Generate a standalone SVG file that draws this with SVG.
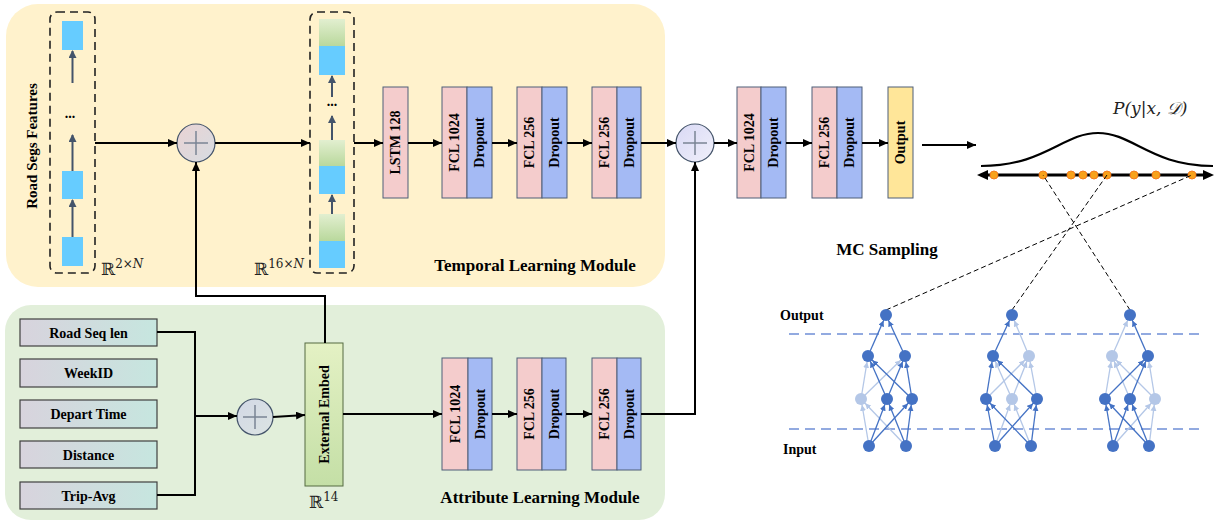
<svg xmlns="http://www.w3.org/2000/svg" width="1215" height="523" viewBox="0 0 1215 523">
<style>
.lbl{font-family:"Liberation Serif","Times New Roman",serif;font-weight:bold;font-size:14px;fill:#000}
.big{font-family:"Liberation Serif","Times New Roman",serif;font-weight:bold;font-size:17px;fill:#000}
.math{font-family:"DejaVu Serif","Liberation Serif",serif;font-size:17px;fill:#222}
.conn{fill:none;stroke:#000;stroke-width:2}
.gconn{fill:none;stroke:#44546A;stroke-width:2}
.fcl{fill:#F4CCCC;stroke:#4F5F78;stroke-width:1}
.drop{fill:#A4BAF4;stroke:#4F5F78;stroke-width:1}
.dash{fill:none;stroke:#222;stroke-width:1.6;stroke-dasharray:8 5}
.blue{fill:#66CCFF}
.ib{fill:url(#gInput);stroke:#404040;stroke-width:1.2}
.plus{stroke:#7A8494;stroke-width:1.5}
.dk{fill:#4472C4}
.lt{fill:#B4C7E7}
.edk{stroke:#4472C4;stroke-width:1.3;marker-end:url(#aDk)}
.elt{stroke:#B4C7E7;stroke-width:1.3;marker-end:url(#aLt)}
.mc{fill:none;stroke:#000;stroke-width:1;stroke-dasharray:5 3}
.sep{stroke:#6F8FD6;stroke-width:1.5;stroke-dasharray:10 6}
.dot{fill:#F7A21B;stroke:#F47C20;stroke-width:1}
</style>
<defs>
<marker id="aBk" markerUnits="userSpaceOnUse" markerWidth="10" markerHeight="8" refX="9" refY="4" orient="auto"><path d="M0,0 L9,4 L0,8 z" fill="#000"/></marker>
<marker id="aBk2" markerUnits="userSpaceOnUse" markerWidth="12" markerHeight="10" refX="0" refY="5" orient="auto-start-reverse"><path d="M0,0 L11,5 L0,10 z" fill="#000"/></marker>
<marker id="aGr" markerUnits="userSpaceOnUse" markerWidth="8" markerHeight="8" refX="7" refY="4" orient="auto"><path d="M0,0 L8,4 L0,8 z" fill="#44546A"/></marker>
<marker id="aDk" markerUnits="userSpaceOnUse" markerWidth="14" markerHeight="6" refX="12" refY="3" orient="auto"><path d="M0,0 L6,3 L0,6 z" fill="#4472C4"/></marker>
<marker id="aLt" markerUnits="userSpaceOnUse" markerWidth="14" markerHeight="6" refX="12" refY="3" orient="auto"><path d="M0,0 L6,3 L0,6 z" fill="#B4C7E7"/></marker>
<linearGradient id="gInput" x1="0" y1="0" x2="1" y2="0"><stop offset="0" stop-color="#D8D3DD"/><stop offset="1" stop-color="#C6E6DF"/></linearGradient>
<linearGradient id="gGreen" x1="0" y1="0" x2="0" y2="1"><stop offset="0" stop-color="#E2EFD0"/><stop offset="1" stop-color="#B9D89C"/></linearGradient>
<linearGradient id="gEmbed" x1="0" y1="0" x2="0" y2="1"><stop offset="0" stop-color="#E4F1C4"/><stop offset="1" stop-color="#C4DFA6"/></linearGradient>
<linearGradient id="gC1" x1="0" y1="0" x2="1" y2="1"><stop offset="0" stop-color="#EAD3D3"/><stop offset="1" stop-color="#D6DCE2"/></linearGradient>
<linearGradient id="gC2" x1="0" y1="0" x2="1" y2="1"><stop offset="0" stop-color="#D9D9F5"/><stop offset="1" stop-color="#F0F0FA"/></linearGradient>
<linearGradient id="gC3" x1="0" y1="0" x2="1" y2="1"><stop offset="0" stop-color="#D2D8E6"/><stop offset="1" stop-color="#DCE4E2"/></linearGradient>
</defs>

<!-- panels -->
<rect id="temporal-panel" x="6" y="4" width="659" height="283" rx="32" fill="#FFF2CC"/>
<rect id="attribute-panel" x="5" y="305" width="660" height="215" rx="26" fill="#E2EFDA"/>
<text class="big" x="535" y="271" text-anchor="middle">Temporal Learning Module</text>
<text class="big" x="540" y="503" text-anchor="middle">Attribute Learning Module</text>

<!-- road segs features -->
<g id="road-segs">
<text class="lbl" transform="translate(37,146) rotate(-90)" text-anchor="middle" style="font-size:15px">Road Segs Features</text>
<rect class="dash" x="50" y="12" width="45" height="261" rx="7"/>
<rect class="blue" x="62" y="21" width="21" height="29"/>
<rect class="blue" x="62" y="171" width="21" height="28"/>
<rect class="blue" x="62" y="237" width="21" height="29"/>
<line class="gconn" x1="72.5" y1="83" x2="72.5" y2="51" marker-end="url(#aGr)"/>
<line class="gconn" x1="72.5" y1="171" x2="72.5" y2="135" marker-end="url(#aGr)"/>
<line class="gconn" x1="72.5" y1="237" x2="72.5" y2="200" marker-end="url(#aGr)"/>
<text class="lbl" x="70" y="118" text-anchor="middle">...</text>
<text class="math" x="101" y="275">ℝ<tspan font-size="12" dy="-7">2×<tspan font-style="italic">N</tspan></tspan></text>
</g>

<g id="plus1">
<circle cx="196" cy="143" r="19" fill="url(#gC1)" stroke="#44546A" stroke-width="1.2"/>
<line class="plus" x1="184" y1="143" x2="208" y2="143"/><line class="plus" x1="196" y1="131" x2="196" y2="155"/>
</g>

<g id="embedded-seq">
<rect class="dash" x="310" y="12" width="44" height="261" rx="7"/>
<rect x="319" y="19" width="26" height="27" fill="url(#gGreen)"/><rect class="blue" x="319" y="46" width="26" height="29"/>
<rect x="319" y="140" width="26" height="26" fill="url(#gGreen)"/><rect class="blue" x="319" y="166" width="26" height="28"/>
<rect x="319" y="214" width="26" height="27" fill="url(#gGreen)"/><rect class="blue" x="319" y="241" width="26" height="27"/>
<line class="gconn" x1="332" y1="97" x2="332" y2="76" marker-end="url(#aGr)"/>
<line class="gconn" x1="332" y1="140" x2="332" y2="116" marker-end="url(#aGr)"/>
<line class="gconn" x1="332" y1="214" x2="332" y2="195" marker-end="url(#aGr)"/>
<text class="lbl" x="332" y="106" text-anchor="middle">...</text>
<text class="math" x="254" y="275">ℝ<tspan font-size="12" dy="-7">16×<tspan font-style="italic">N</tspan></tspan></text>
</g>

<g id="lstm"><rect class="fcl" x="383" y="87" width="25" height="111"/><text class="lbl" transform="translate(395.5,142.5) rotate(-90)" text-anchor="middle" dominant-baseline="central">LSTM 128</text></g>
<g id="t-fcl1"><rect class="fcl" x="442" y="87" width="25" height="111"/><rect class="drop" x="467" y="87" width="25" height="111"/>
<text class="lbl" transform="translate(454.5,142.5) rotate(-90)" text-anchor="middle" dominant-baseline="central">FCL 1024</text>
<text class="lbl" transform="translate(479.5,142.5) rotate(-90)" text-anchor="middle" dominant-baseline="central">Dropout</text></g>
<g id="t-fcl2"><rect class="fcl" x="517" y="87" width="25" height="111"/><rect class="drop" x="542" y="87" width="25" height="111"/>
<text class="lbl" transform="translate(529.5,142.5) rotate(-90)" text-anchor="middle" dominant-baseline="central">FCL 256</text>
<text class="lbl" transform="translate(554.5,142.5) rotate(-90)" text-anchor="middle" dominant-baseline="central">Dropout</text></g>
<g id="t-fcl3"><rect class="fcl" x="592" y="87" width="25" height="111"/><rect class="drop" x="617" y="87" width="24" height="111"/>
<text class="lbl" transform="translate(604.5,142.5) rotate(-90)" text-anchor="middle" dominant-baseline="central">FCL 256</text>
<text class="lbl" transform="translate(629,142.5) rotate(-90)" text-anchor="middle" dominant-baseline="central">Dropout</text></g>

<g id="plus2">
<circle cx="695" cy="143" r="19" fill="url(#gC2)" stroke="#44546A" stroke-width="1.2"/>
<line class="plus" x1="683" y1="143" x2="707" y2="143"/><line class="plus" x1="695" y1="131" x2="695" y2="155"/>
</g>

<g id="m-fcl1"><rect class="fcl" x="737" y="87" width="24" height="111"/><rect class="drop" x="761" y="87" width="25" height="111"/>
<text class="lbl" transform="translate(749,142.5) rotate(-90)" text-anchor="middle" dominant-baseline="central">FCL 1024</text>
<text class="lbl" transform="translate(773.5,142.5) rotate(-90)" text-anchor="middle" dominant-baseline="central">Dropout</text></g>
<g id="m-fcl2"><rect class="fcl" x="812" y="87" width="25" height="111"/><rect class="drop" x="837" y="87" width="25" height="111"/>
<text class="lbl" transform="translate(824.5,142.5) rotate(-90)" text-anchor="middle" dominant-baseline="central">FCL 256</text>
<text class="lbl" transform="translate(849.5,142.5) rotate(-90)" text-anchor="middle" dominant-baseline="central">Dropout</text></g>
<g id="output"><rect x="888" y="87" width="25" height="111" fill="#FFE699" stroke="#4F5F78" stroke-width="1"/>
<text class="lbl" transform="translate(900.5,142.5) rotate(-90)" text-anchor="middle" dominant-baseline="central">Output</text></g>

<!-- distribution -->
<g id="distribution">
<text class="math" x="1113" y="114" font-style="italic">P(y|x, 𝒟)</text>
<path d="M981,166 C1045,166 1063,133 1098,133 C1133,133 1151,166 1213,166" fill="none" stroke="#000" stroke-width="2.2"/>
<line x1="988" y1="175" x2="1203" y2="175" stroke="#000" stroke-width="3" marker-start="url(#aBk2)" marker-end="url(#aBk2)"/>
<circle class="dot" cx="994" cy="175" r="4"/><circle class="dot" cx="1043" cy="175" r="4"/>
<circle class="dot" cx="1071" cy="175" r="4"/><circle class="dot" cx="1083" cy="175" r="4"/>
<circle class="dot" cx="1094" cy="175" r="4"/><circle class="dot" cx="1107" cy="175" r="4"/>
<circle class="dot" cx="1134" cy="175" r="4"/><circle class="dot" cx="1156" cy="175" r="4"/>
<circle class="dot" cx="1192" cy="175" r="4"/>
</g>
<text class="big" x="887" y="255" text-anchor="middle">MC Sampling</text>

<!-- attribute inputs -->
<g id="in-roadseq"><rect class="ib" x="20" y="319" width="137" height="27"/><text class="lbl" x="88.5" y="337.5" text-anchor="middle">Road Seq len</text></g>
<g id="in-weekid"><rect class="ib" x="20" y="359" width="137" height="28"/><text class="lbl" x="88.5" y="378" text-anchor="middle">WeekID</text></g>
<g id="in-depart"><rect class="ib" x="20" y="400" width="137" height="28"/><text class="lbl" x="88.5" y="419" text-anchor="middle">Depart Time</text></g>
<g id="in-distance"><rect class="ib" x="20" y="441" width="137" height="27"/><text class="lbl" x="88.5" y="459.5" text-anchor="middle">Distance</text></g>
<g id="in-tripavg"><rect class="ib" x="20" y="482" width="137" height="27"/><text class="lbl" x="88.5" y="500.5" text-anchor="middle">Trip-Avg</text></g>

<g id="plus3">
<circle cx="255" cy="417" r="18" fill="url(#gC3)" stroke="#44546A" stroke-width="1.2"/>
<line class="plus" x1="243" y1="417" x2="267" y2="417"/><line class="plus" x1="255" y1="405" x2="255" y2="429"/>
</g>
<g id="ext-embed"><rect x="305" y="343" width="38" height="143" fill="url(#gEmbed)" stroke="#556B40" stroke-width="1"/>
<text class="lbl" transform="translate(324,414.5) rotate(-90)" text-anchor="middle" dominant-baseline="central">External Embed</text>
<text class="math" x="309" y="508">ℝ<tspan font-size="12" dy="-7">14</tspan></text></g>

<g id="a-fcl1"><rect class="fcl" x="442" y="358" width="26" height="112"/><rect class="drop" x="468" y="358" width="24" height="112"/>
<text class="lbl" transform="translate(455,414) rotate(-90)" text-anchor="middle" dominant-baseline="central">FCL 1024</text>
<text class="lbl" transform="translate(480,414) rotate(-90)" text-anchor="middle" dominant-baseline="central">Dropout</text></g>
<g id="a-fcl2"><rect class="fcl" x="517" y="358" width="25" height="112"/><rect class="drop" x="542" y="358" width="24" height="112"/>
<text class="lbl" transform="translate(529.5,414) rotate(-90)" text-anchor="middle" dominant-baseline="central">FCL 256</text>
<text class="lbl" transform="translate(554,414) rotate(-90)" text-anchor="middle" dominant-baseline="central">Dropout</text></g>
<g id="a-fcl3"><rect class="fcl" x="592" y="358" width="25" height="112"/><rect class="drop" x="617" y="358" width="24" height="112"/>
<text class="lbl" transform="translate(604.5,414) rotate(-90)" text-anchor="middle" dominant-baseline="central">FCL 256</text>
<text class="lbl" transform="translate(629,414) rotate(-90)" text-anchor="middle" dominant-baseline="central">Dropout</text></g>

<!-- connectors -->
<g id="connectors">
<line class="conn" x1="95" y1="143" x2="177" y2="143" marker-end="url(#aBk)"/>
<line class="conn" x1="215" y1="143" x2="310" y2="143" marker-end="url(#aBk)"/>
<line class="conn" x1="354" y1="143" x2="383" y2="143" marker-end="url(#aBk)"/>
<line class="conn" x1="408" y1="143" x2="442" y2="143" marker-end="url(#aBk)"/>
<line class="conn" x1="492" y1="143" x2="517" y2="143" marker-end="url(#aBk)"/>
<line class="conn" x1="567" y1="143" x2="592" y2="143" marker-end="url(#aBk)"/>
<line class="conn" x1="641" y1="143" x2="676" y2="143" marker-end="url(#aBk)"/>
<line class="conn" x1="714" y1="143" x2="737" y2="143" marker-end="url(#aBk)"/>
<line class="conn" x1="786" y1="143" x2="812" y2="143" marker-end="url(#aBk)"/>
<line class="conn" x1="862" y1="143" x2="888" y2="143" marker-end="url(#aBk)"/>
<line class="conn" x1="922" y1="145" x2="976" y2="145" marker-end="url(#aBk)"/>
<polyline class="conn" points="325,343 325,296 196,296 196,162" marker-end="url(#aBk)"/>
<polyline class="conn" points="157,332 195,332 195,495 157,495"/>
<line class="conn" x1="195" y1="416" x2="237" y2="416" marker-end="url(#aBk)"/>
<line class="conn" x1="273" y1="417" x2="305" y2="415" marker-end="url(#aBk)"/>
<line class="conn" x1="343" y1="414" x2="442" y2="414" marker-end="url(#aBk)"/>
<line class="conn" x1="492" y1="414" x2="517" y2="414" marker-end="url(#aBk)"/>
<line class="conn" x1="566" y1="414" x2="592" y2="414" marker-end="url(#aBk)"/>
<polyline class="conn" points="641,414 695,414 695,162" marker-end="url(#aBk)"/>
<line class="mc" x1="886" y1="310" x2="1192" y2="175"/>
<line class="mc" x1="1012" y1="310" x2="1107" y2="175"/>
<line class="mc" x1="1130" y1="310" x2="1043" y2="175"/>
</g>

<!-- MC dropout networks -->
<g id="mc-networks">
<text class="lbl" x="780" y="320">Output</text>
<text class="lbl" x="783" y="454">Input</text>
<line class="sep" x1="789" y1="334" x2="1200" y2="334"/>
<line class="sep" x1="789" y1="429" x2="1200" y2="429"/>
<g id="net1">
<line class="elt" x1="869" y1="446" x2="861" y2="399"/><line class="elt" x1="906" y1="446" x2="861" y2="399"/>
<line class="elt" x1="861" y1="399" x2="868" y2="356"/><line class="elt" x1="861" y1="399" x2="905" y2="356"/>
<line class="edk" x1="869" y1="446" x2="887" y2="399"/><line class="edk" x1="906" y1="446" x2="887" y2="399"/>
<line class="edk" x1="869" y1="446" x2="912" y2="399"/><line class="edk" x1="906" y1="446" x2="912" y2="399"/>
<line class="edk" x1="887" y1="399" x2="868" y2="356"/><line class="edk" x1="887" y1="399" x2="905" y2="356"/>
<line class="edk" x1="912" y1="399" x2="868" y2="356"/><line class="edk" x1="912" y1="399" x2="905" y2="356"/>
<line class="edk" x1="868" y1="356" x2="886" y2="315"/><line class="edk" x1="905" y1="356" x2="886" y2="315"/>
<circle class="dk" cx="886" cy="315" r="6"/>
<circle class="dk" cx="868" cy="356" r="6"/><circle class="dk" cx="905" cy="356" r="6"/>
<circle class="lt" cx="861" cy="399" r="6"/><circle class="dk" cx="887" cy="399" r="6"/><circle class="dk" cx="912" cy="399" r="6"/>
<circle class="dk" cx="869" cy="446" r="6"/><circle class="dk" cx="906" cy="446" r="6"/>
</g>
<g id="net2">
<line class="elt" x1="995" y1="446" x2="1012" y2="399"/><line class="elt" x1="1031" y1="446" x2="1012" y2="399"/>
<line class="elt" x1="986" y1="399" x2="1029" y2="356"/><line class="elt" x1="1012" y1="399" x2="993" y2="356"/>
<line class="elt" x1="1012" y1="399" x2="1029" y2="356"/><line class="elt" x1="1037" y1="399" x2="1029" y2="356"/>
<line class="elt" x1="1029" y1="356" x2="1012" y2="315"/>
<line class="edk" x1="995" y1="446" x2="986" y2="399"/><line class="edk" x1="1031" y1="446" x2="986" y2="399"/>
<line class="edk" x1="995" y1="446" x2="1037" y2="399"/><line class="edk" x1="1031" y1="446" x2="1037" y2="399"/>
<line class="edk" x1="986" y1="399" x2="993" y2="356"/><line class="edk" x1="1037" y1="399" x2="993" y2="356"/>
<line class="edk" x1="993" y1="356" x2="1012" y2="315"/>
<circle class="dk" cx="1012" cy="315" r="6"/>
<circle class="dk" cx="993" cy="356" r="6"/><circle class="lt" cx="1029" cy="356" r="6"/>
<circle class="dk" cx="986" cy="399" r="6"/><circle class="lt" cx="1012" cy="399" r="6"/><circle class="dk" cx="1037" cy="399" r="6"/>
<circle class="dk" cx="995" cy="446" r="6"/><circle class="dk" cx="1031" cy="446" r="6"/>
</g>
<g id="net3">
<line class="elt" x1="1113" y1="446" x2="1155" y2="399"/><line class="elt" x1="1149" y1="446" x2="1155" y2="399"/>
<line class="elt" x1="1105" y1="399" x2="1112" y2="356"/><line class="elt" x1="1130" y1="399" x2="1112" y2="356"/>
<line class="elt" x1="1155" y1="399" x2="1112" y2="356"/><line class="elt" x1="1155" y1="399" x2="1148" y2="356"/>
<line class="elt" x1="1112" y1="356" x2="1130" y2="315"/>
<line class="edk" x1="1113" y1="446" x2="1105" y2="399"/><line class="edk" x1="1149" y1="446" x2="1105" y2="399"/>
<line class="edk" x1="1113" y1="446" x2="1130" y2="399"/><line class="edk" x1="1149" y1="446" x2="1130" y2="399"/>
<line class="edk" x1="1105" y1="399" x2="1148" y2="356"/><line class="edk" x1="1130" y1="399" x2="1148" y2="356"/>
<line class="edk" x1="1148" y1="356" x2="1130" y2="315"/>
<circle class="dk" cx="1130" cy="315" r="6"/>
<circle class="lt" cx="1112" cy="356" r="6"/><circle class="dk" cx="1148" cy="356" r="6"/>
<circle class="dk" cx="1105" cy="399" r="6"/><circle class="dk" cx="1130" cy="399" r="6"/><circle class="lt" cx="1155" cy="399" r="6"/>
<circle class="dk" cx="1113" cy="446" r="6"/><circle class="dk" cx="1149" cy="446" r="6"/>
</g>
</g>
</svg>
